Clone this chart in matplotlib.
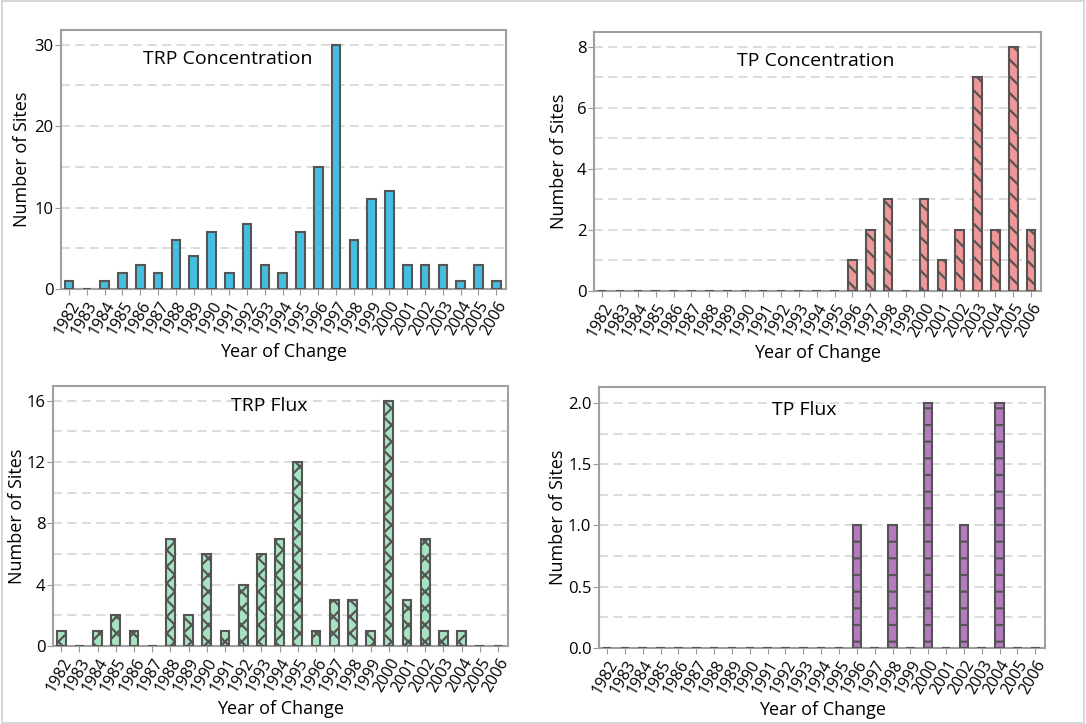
import numpy as np
import matplotlib
matplotlib.use('Agg')
import matplotlib.pyplot as plt
from matplotlib.patches import Rectangle
from matplotlib.ticker import MultipleLocator, FormatStrFormatter

plt.rcParams['font.family'] = ['Open Sans', 'DejaVu Sans']
plt.rcParams['hatch.linewidth'] = 1.6

# Data
years = [str(y) for y in range(1982, 2007)]
trp_conc = [1, 0, 1, 2, 3, 2, 6, 4, 7, 2, 8, 3, 2, 7, 15, 30, 6, 11, 12, 3, 3, 3, 1, 3, 1]
tp_conc = [0, 0, 0, 0, 0, 0, 0, 0, 0, 0, 0, 0, 0, 0, 1, 2, 3, 0, 3, 1, 2, 7, 2, 8, 2]
trp_flux = [1, 0, 1, 2, 1, 0, 7, 2, 6, 1, 4, 6, 7, 12, 1, 3, 3, 1, 16, 3, 7, 1, 1, 0, 0]
tp_flux = [0, 0, 0, 0, 0, 0, 0, 0, 0, 0, 0, 0, 0, 0, 1, 0, 1, 0, 2, 0, 1, 0, 2, 0, 0]

fig = plt.figure(figsize=(10.86, 7.24), dpi=100)
fig.patches.append(Rectangle((0.002, 0.002), 0.996, 0.996, transform=fig.transFigure,
                             fill=False, edgecolor='#d0d0d0', lw=1.2))

panels = [
    # rect, values, title, title pos, ylabel x, color, hatch, ymax, major, minor, fmt
    ([0.0562, 0.6008, 0.4098, 0.3577], trp_conc, 'TRP Concentration', (0.375, 0.888), -0.088,
     '#45bfe0', None, 31.8, 10, 5, '%d'),
    ([0.547, 0.5981, 0.4116, 0.3577], tp_conc, 'TP Concentration', (0.497, 0.888), -0.078,
     '#f09898', '\\\\', 8.48, 2, 1, '%d'),
    ([0.0488, 0.1077, 0.419, 0.359], trp_flux, 'TRP Flux', (0.475, 0.923), -0.08,
     '#a6e3c0', 'xx', 16.96, 4, 2, '%d'),
    ([0.5516, 0.105, 0.4107, 0.3605], tp_flux, 'TP Flux', (0.46, 0.912), -0.092,
     '#b47cbe', '-', 2.13, 0.5, 0.25, '%.1f'),
]

x = np.arange(len(years))
for rect, vals, title, tpos, ylx, color, hatch, ymax, major, minor, fmt in panels:
    ax = fig.add_axes(rect)
    ax.bar(x, vals, width=0.48, color=color, edgecolor='#555555', linewidth=1.5,
           hatch=hatch, zorder=3)
    ax.set_xlim(-0.45, 24.55)
    ax.set_ylim(0, ymax)
    ax.yaxis.set_major_locator(MultipleLocator(major))
    ax.yaxis.set_minor_locator(MultipleLocator(minor))
    ax.yaxis.set_major_formatter(FormatStrFormatter(fmt))
    ax.grid(axis='y', which='both', color='#d9d9d9', linestyle=(0, (5, 3)), lw=1.3, zorder=0)
    ax.set_xticks(x)
    ax.set_xticklabels(years, rotation=60, ha='right', rotation_mode='anchor', fontsize=11.5)
    ax.tick_params(axis='x', length=4, color='#999999', pad=3)
    ax.tick_params(axis='y', which='major', length=4, color='#999999', labelsize=12, pad=1.5)
    ax.tick_params(axis='y', which='minor', length=0)
    for s in ax.spines.values():
        s.set_color('#a0a0a0')
        s.set_linewidth(1.5)
    ax.set_ylabel('Number of Sites', fontsize=13, va='center')
    ax.yaxis.set_label_coords(ylx, 0.5)
    ax.set_xlabel('Year of Change', fontsize=13, labelpad=3)
    ax.text(tpos[0], tpos[1], title, transform=ax.transAxes, ha='center', va='center',
            fontsize=14)

fig.savefig('out.png', dpi=100)
